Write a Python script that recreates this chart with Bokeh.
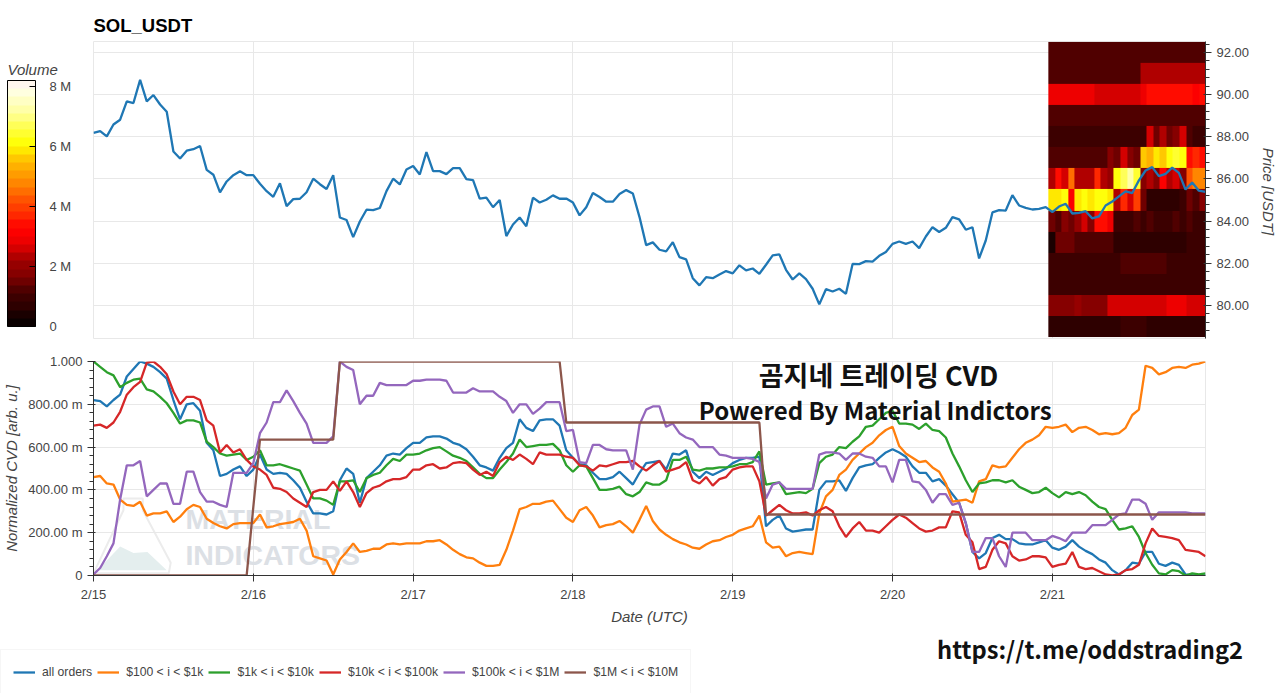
import numpy as np
from bokeh.embed import file_html
from bokeh.layouts import column, row
from bokeh.models import (ColorBar, CustomJSTickFormatter, FixedTicker, Label, Legend,
                          LinearColorMapper, Range1d)
from bokeh.plotting import figure
from bokeh.resources import INLINE

# hours since 2/15 00:00 UTC
hours = list(range(168))
day_ticks = [0, 24, 48, 72, 96, 120, 144]
day_labels = ["2/15", "2/16", "2/17", "2/18", "2/19", "2/20", "2/21"]

price = [
    88.19, 88.27, 88.02, 88.58, 88.81, 89.68, 89.60, 90.70, 89.68, 89.98, 89.53, 89.19,
    87.30, 86.97, 87.34, 87.41, 87.56, 86.43, 86.20, 85.36, 85.88, 86.18, 86.36, 86.18,
    86.18, 85.77, 85.42, 85.15, 85.79, 84.71, 85.04, 85.06, 85.37, 86.01, 85.75, 85.52,
    86.18, 84.17, 84.05, 83.24, 83.98, 84.54, 84.52, 84.62, 85.42, 86.01, 85.74, 86.45,
    86.61, 86.21, 87.27, 86.37, 86.37, 86.23, 86.51, 86.51, 85.99, 85.94, 85.07, 85.11,
    84.66, 85.00, 83.29, 83.84, 84.17, 83.75, 85.11, 84.88, 85.01, 85.22, 85.06, 85.07,
    84.88, 84.27, 84.66, 85.33, 85.14, 84.92, 84.92, 85.28, 85.47, 85.31, 84.19, 82.86,
    82.99, 82.64, 82.56, 83.00, 82.29, 82.18, 81.29, 80.95, 81.34, 81.29, 81.47, 81.63,
    81.52, 81.90, 81.66, 81.75, 81.50, 81.93, 82.37, 82.42, 81.69, 81.23, 81.52, 81.25,
    80.79, 80.05, 80.77, 80.66, 80.79, 80.55, 81.97, 81.96, 82.10, 82.08, 82.35, 82.53,
    82.92, 83.03, 82.92, 83.03, 82.72, 83.27, 83.71, 83.48, 83.68, 84.19, 84.08, 83.59,
    83.71, 82.23, 83.08, 84.41, 84.52, 84.50, 85.23, 84.74, 84.63, 84.55, 84.58, 84.66,
    84.43, 84.69, 84.82, 84.36, 84.39, 84.47, 84.13, 84.22, 84.74, 84.93, 85.17, 85.41,
    85.33, 85.93, 86.40, 86.56, 86.13, 86.24, 86.54, 86.29, 85.50, 85.83, 85.44, 85.39,
]

all_orders = [
    .82, .815, .79, .82, .845, .93, .965, 1.0, .99, .975, .95, .92,
    .82, .73, .80, .805, .77, .62, .585, .465, .475, .495, .51, .465,
    .495, .565, .495, .475, .48, .475, .445, .41, .345, .29, .29, .285,
    .30, .445, .50, .475, .34, .455, .485, .515, .56, .57, .565, .595,
    .62, .62, .645, .65, .65, .64, .62, .61, .59, .555, .515, .505,
    .49, .55, .595, .62, .73, .69, .675, .725, .73, .73, .70, .585,
    .55, .52, .515, .48, .45, .45, .46, .485, .455, .425, .48, .525,
    .53, .535, .495, .57, .565, .585, .485, .455, .485, .47, .485, .50,
    .525, .54, .55, .55, .555, .23, .26, .28, .22, .205, .21, .215,
    .215, .40, .44, .44, .445, .395, .455, .505, .515, .52, .55, .575,
    .59, .575, .555, .51, .48, .48, .44, .45, .42, .38, .34, .245,
    .11, .08, .105, .175, .19, .17, .17, .15, .145, .145, .155, .165,
    .13, .12, .135, .165, .135, .115, .10, .075, .06, .025, .005, .025,
    .06, .055, .11, .11, .055, .045, .06, .05, .005, 0, 0, 0,
]
orders_100_1k = [
    .46, .465, .43, .425, .355, .33, .325, .345, .28, .29, .29, .30,
    .25, .275, .31, .33, .32, .265, .245, .23, .22, .24, .245, .245,
    .245, .285, .225, .23, .24, .245, .25, .265, .21, .09, .08, .07,
    .005, .075, .11, .15, .11, .115, .125, .125, .145, .15, .145, .15,
    .15, .15, .16, .16, .165, .145, .12, .10, .085, .08, .06, .045,
    .045, .05, .12, .21, .31, .32, .335, .335, .345, .35, .31, .27,
    .25, .305, .32, .28, .225, .235, .24, .255, .23, .20, .26, .325,
    .255, .215, .19, .17, .155, .145, .13, .125, .145, .16, .165, .18,
    .19, .21, .22, .23, .28, .155, .13, .135, .09, .105, .11, .105,
    .10, .29, .37, .40, .47, .495, .54, .57, .60, .62, .655, .68,
    .695, .605, .57, .55, .53, .535, .505, .485, .43, .345, .35, .355,
    .34, .44, .45, .515, .505, .51, .55, .59, .62, .635, .655, .695,
    .69, .695, .705, .67, .69, .695, .68, .66, .665, .66, .665, .69,
    .75, .775, .98, .97, .94, .95, .97, .975, .97, .985, .99, 1.0,
]
orders_1k_10k = [
    1.0, .975, .95, .935, .88, .90, .915, .92, .87, .86, .835, .805,
    .76, .71, .725, .725, .715, .625, .60, .57, .56, .565, .57, .54,
    .555, .585, .515, .515, .52, .51, .50, .49, .425, .36, .36, .35,
    .33, .44, .44, .445, .39, .455, .47, .48, .515, .545, .535, .565,
    .565, .57, .585, .595, .60, .58, .56, .55, .535, .505, .475, .455,
    .455, .495, .53, .57, .635, .60, .605, .61, .61, .615, .585, .515,
    .485, .515, .51, .455, .40, .40, .405, .415, .38, .37, .39, .435,
    .425, .425, .445, .54, .54, .555, .495, .49, .50, .50, .505, .505,
    .51, .52, .52, .53, .58, .425, .43, .435, .38, .385, .39, .385,
    .405, .525, .555, .565, .60, .595, .625, .65, .695, .70, .73, .76,
    .77, .71, .71, .705, .685, .71, .68, .675, .645, .57, .51, .445,
    .39, .43, .435, .445, .445, .435, .445, .415, .40, .385, .39, .41,
    .385, .365, .39, .38, .39, .375, .345, .32, .31, .26, .215, .22,
    .23, .18, .105, .05, .01, .005, .025, .02, 0, .01, .005, .01,
]
orders_10k_100k = [
    .70, .705, .69, .715, .765, .845, .88, .905, .995, 1.0, .975, .94,
    .86, .80, .835, .835, .82, .725, .70, .575, .61, .575, .59, .54,
    .51, .495, .47, .41, .405, .39, .36, .34, .32, .39, .40, .40,
    .44, .395, .44, .39, .32, .385, .41, .42, .44, .45, .45, .46,
    .495, .495, .515, .52, .50, .505, .525, .53, .525, .495, .47, .485,
    .465, .53, .555, .54, .565, .545, .52, .575, .565, .565, .565, .555,
    .55, .515, .51, .49, .515, .51, .52, .53, .53, .535, .51, .49,
    .515, .535, .485, .495, .505, .53, .445, .43, .46, .42, .45, .46,
    .495, .505, .51, .51, .44, .28, .305, .33, .305, .29, .29, .295,
    .28, .305, .32, .30, .23, .18, .22, .25, .21, .21, .20, .23,
    .26, .285, .27, .245, .22, .205, .21, .225, .225, .30, .295, .19,
    .155, .03, .04, .12, .16, .15, .09, .07, .075, .09, .09, .085,
    .04, .05, .055, .11, .04, .03, .035, .02, .005, 0, .005, .025,
    .03, .05, .15, .22, .185, .18, .175, .165, .12, .115, .11, .09,
]
orders_100k_1m = [
    .005, .035, .09, .15, .355, .515, .515, .535, .37, .40, .43, .43,
    .335, .335, .485, .485, .39, .345, .345, .33, .32, .48, .48, .48,
    .525, .665, .715, .81, .81, .865, .815, .76, .71, .62, .62, .62,
    .65, 1.0, .975, .96, .80, .84, .84, .90, .89, .89, .89, .89,
    .91, .91, .915, .915, .915, .91, .855, .855, .855, .875, .86, .86,
    .86, .835, .815, .76, .80, .80, .755, .78, .81, .81, .81, .675,
    .68, .53, .525, .61, .61, .59, .585, .585, .585, .495, .705, .775,
    .79, .79, .695, .71, .665, .645, .635, .60, .60, .60, .565, .56,
    .55, .55, .55, .545, .53, .36, .425, .435, .405, .405, .405, .405,
    .405, .565, .575, .575, .57, .54, .57, .57, .555, .55, .51, .51,
    .435, .54, .54, .44, .435, .40, .34, .38, .38, .33, .34, .245,
    .11, .11, .175, .175, .09, .04, .20, .20, .20, .165, .165, .165,
    .185, .175, .16, .20, .20, .20, .235, .235, .235, .26, .285, .29,
    .355, .355, .335, .26, .295, .295, .295, .295, .295, .29, .29, .29,
]
orders_1m_10m = [
    0, 0, 0, 0, 0, 0, 0, 0, 0, 0, 0, 0,
    0, 0, 0, 0, 0, 0, 0, 0, 0, 0, 0, 0,
    .32, .635, .635, .635, .635, .635, .635, .635, .635, .635, .635, .635,
    .635, 1.0, 1.0, 1.0, 1.0, 1.0, 1.0, 1.0, 1.0, 1.0, 1.0, 1.0,
    1.0, 1.0, 1.0, 1.0, 1.0, 1.0, 1.0, 1.0, 1.0, 1.0, 1.0, 1.0,
    1.0, 1.0, 1.0, 1.0, 1.0, 1.0, 1.0, 1.0, 1.0, 1.0, 1.0, .715,
    .715, .715, .715, .715, .715, .715, .715, .715, .715, .715, .715, .715,
    .715, .715, .715, .715, .715, .715, .715, .715, .715, .715, .715, .715,
    .715, .715, .715, .715, .715, .285, .285, .285, .285, .285, .285, .285,
    .285, .285, .285, .285, .285, .285, .285, .285, .285, .285, .285, .285,
    .285, .285, .285, .285, .285, .285, .285, .285, .285, .285, .285, .285,
    .285, .285, .285, .285, .285, .285, .285, .285, .285, .285, .285, .285,
    .285, .285, .285, .285, .285, .285, .285, .285, .285, .285, .285, .285,
    .285, .285, .285, .285, .285, .285, .285, .285, .285, .285, .285, .285,
]

# volume by price bucket over the last 24 hours, in millions
vol_92 = [1.15, 1.15, 1.15, 1.15, 1.15, 1.15, 1.15, 1.15, 1.15, 1.15, 1.15, 1.15, 1.15, 1.15, 1.15, 1.15, 1.25, 1.25, 1.25, 1.25, 1.2, 1.2, 1.2, 1.2]
vol_91 = [1.15, 1.15, 1.15, 1.15, 1.15, 1.15, 1.15, 1.15, 1.15, 1.15, 1.15, 1.15, 1.15, 1.15, 2.3, 2.3, 2.3, 2.3, 2.2, 2.2, 2.2, 2.2, 2.3, 2.3]
vol_90 = [2.8, 2.8, 2.8, 2.8, 2.8, 2.8, 2.8, 2.65, 2.55, 2.55, 2.55, 2.55, 2.55, 2.7, 3.0, 3.3, 3.3, 3.3, 3.3, 3.3, 3.3, 3.3, 3.2, 3.3]
vol_89 = [1.1, 1.1, 1.1, 1.1, 1.1, 1.1, 1.1, 1.1, 1.1, 1.1, 1.1, 1.1, 1.1, 1.1, 1.1, 1.1, 1.1, 1.1, 1.1, 1.1, 1.1, 1.1, 1.1, 1.1]
vol_88 = [.95, .95, .95, .95, .95, .95, 1.0, .95, 1.0, .95, .95, .95, .95, .95, .95, 2.5, 1.4, 2.3, 1.4, 1.7, 2.7, 1.1, 1.0, 1.0]
vol_87 = [1.3, 1.3, 1.3, 1.3, 1.3, 1.35, 1.3, 1.35, 1.3, 1.7, 1.5, 2.6, 1.9, 1.6, 5.6, 5.2, 5.9, 5.5, 6.1, 6.3, 6.1, 3.5, 3.8, 3.3]
vol_86 = [2.4, 3.5, 2.5, 4.4, 2.2, 2.3, 2.2, 3.6, 2.2, 2.1, 6.1, 6.8, 7.2, 6.5, 1.9, 2.4, 1.8, 3.1, 2.3, 2.7, 1.9, 4.3, 4.7, 4.8]
vol_85 = [5.9, 5.9, 6.1, 3.2, 6.0, 6.2, 5.9, 6.1, 6.1, 5.8, 2.4, 3.7, 2.7, 3.9, 1.5, .65, .65, .65, .75, .75, .9, 1.6, 1.2, 1.7]
vol_84 = [1.5, 1.3, 1.7, 1.4, 2.0, 2.5, 1.8, 3.3, 3.4, 2.8, 1.0, 1.0, 1.0, 1.1, 1.0, 1.1, 1.0, 1.0, 1.0, 1.1, 1.0, 1.1, 1.0, 1.0]
vol_83 = [.4, 1.5, 1.5, 1.5, 1.2, 1.2, 1.2, 1.2, 1.2, 1.1, .65, .65, .65, .65, .65, .65, .65, .65, .65, .65, .8, .95, .95, .95]
vol_82 = [1.05, 1.05, 1.05, 1.05, 1.05, 1.05, 1.05, 1.05, 1.05, 1.05, 1.05, 1.25, 1.25, 1.25, 1.25, 1.25, 1.25, 1.15, 1.05, 1.05, 1.05, 1.05, 1.05, 1.05]
vol_81 = [.85, .85, .95, .85, .85, .85, .95, .85, .85, .85, .85, .85, .95, .95, .95, .95, .95, .85, .85, .95, .85, .85, .85, .85]
vol_80 = [1.9, 1.9, 1.9, 1.9, 2.0, 1.9, 1.9, 1.9, 1.9, 2.6, 2.6, 2.6, 2.6, 2.6, 2.6, 2.6, 2.6, 2.6, 2.8, 2.8, 2.8, 2.7, 2.7, 2.7]
vol_79 = [.75, .75, .75, .75, .75, .75, .7, .75, .75, .75, .75, 1.0, 1.0, 1.0, 1.0, .7, .7, .7, .7, .7, .75, .75, .75, .75]

heat_palette = [
    "#0a0000", "#1a0000", "#2e0000", "#3c0000", "#500000", "#6e0000", "#860000", "#960000",
    "#b00000", "#d40000", "#ee0000", "#fc0000", "#ff0c00", "#ff2800", "#ff3e00", "#ff5400",
    "#ff6e00", "#ff8600", "#ff9c00", "#ffb000", "#ffc800", "#ffe800", "#ffff0a", "#ffff30",
    "#ffff58", "#ffff84", "#ffffa8", "#ffffc4", "#ffffe0", "#fff6ee",
]

FONT = "Liberation Sans"
TICK_COLOR = "#444444"
GRID_COLOR = "#e8e8e8"
LINE_WIDTH = 2.3


def blank_figure(width, height):
    # labels outside a frame get clipped, so side texts live in their own small frames
    fig = figure(width=width, height=height, output_backend="svg", toolbar_location=None,
                 x_range=Range1d(0, 1), y_range=Range1d(2, 3), x_axis_type=None, y_axis_type=None,
                 min_border=0)
    fig.outline_line_color = None
    fig.grid.visible = False
    return fig


# top panel
p1 = figure(width=1168, height=343, output_backend="svg", toolbar_location=None,
            x_range=Range1d(0, 167), y_range=Range1d(78.43, 92.52),
            y_axis_location="right", title="SOL_USDT",
            min_border_left=0, min_border_right=56, min_border_top=41, min_border_bottom=5)
p1.title.text_font = FONT
p1.title.text_font_size = "18.5px"
p1.title.text_font_style = "bold"
p1.title.text_color = "#000000"
p1.title.offset = 0
p1.title.standoff = 12
p1.xaxis.visible = False
p1.xgrid.ticker = FixedTicker(ticks=day_ticks)
p1.yaxis.formatter = CustomJSTickFormatter(code="return tick.toFixed(2)")

mapper = LinearColorMapper(palette=heat_palette, low=0, high=8.2e6)
volume = np.array([vol_79, vol_80, vol_81, vol_82, vol_83, vol_84, vol_85, vol_86,
                   vol_87, vol_88, vol_89, vol_90, vol_91, vol_92]) * 1e6
p1.image(image=[volume], x=143.4, y=78.5, dw=23.6, dh=14, color_mapper=mapper)
p1.line(hours, price, line_color="#1f77b4", line_width=LINE_WIDTH)

# colour bar strip, left of the top panel
cb_fig = blank_figure(93, 343)
cbar = ColorBar(color_mapper=mapper, location=(7, 12), width=28, height=246, padding=0,
                ticker=FixedTicker(ticks=[0, 2e6, 4e6, 6e6, 8e6]),
                formatter=CustomJSTickFormatter(code="return tick == 0 ? '0' : (tick / 1e6) + ' M'"),
                major_label_text_font=FONT, major_label_text_font_size="13px",
                major_label_text_color=TICK_COLOR, label_standoff=14,
                major_tick_line_color="#000000", major_tick_in=6, major_tick_out=0,
                minor_tick_line_color=None, bar_line_color="#000000", bar_line_width=1,
                background_fill_alpha=0, border_line_color=None)
cb_fig.add_layout(cbar, "center")
cb_fig.add_layout(Label(x=7, y=261, x_units="screen", y_units="screen", text="Volume", text_font=FONT,
                        text_font_size="15px", text_font_style="italic", text_color=TICK_COLOR))

# price axis title strip, right of the top panel
price_fig = blank_figure(19, 343)
price_fig.add_layout(Label(x=7, y=147, x_units="screen", y_units="screen", text="Price [USDT]", text_font=FONT,
                           text_font_size="15px", text_font_style="italic", text_color=TICK_COLOR,
                           angle=-90, angle_units="deg", text_align="center", text_baseline="middle"))

# bottom panel
p2 = figure(width=1280, height=285, output_backend="svg", toolbar_location=None,
            x_range=p1.x_range, y_range=Range1d(0, 1),
            min_border_left=93, min_border_right=75, min_border_top=18, min_border_bottom=53)
p2.xaxis.ticker = FixedTicker(ticks=day_ticks)
p2.xaxis.major_label_overrides = dict(zip(day_ticks, day_labels))
p2.xaxis.axis_label = "Date (UTC)"
p2.xaxis.axis_label_standoff = 3
p2.yaxis.axis_label = "Normalized CVD [arb. u.]"
p2.yaxis.formatter = CustomJSTickFormatter(
    code="return tick > 0.999 ? '1.000' : tick < 0.001 ? '0' : (tick * 1000).toFixed(2) + ' m'")

for p in (p1, p2):
    p.outline_line_color = GRID_COLOR
    p.grid.grid_line_color = GRID_COLOR
    p.axis.major_label_text_font = FONT
    p.axis.major_label_text_font_size = "13px"
    p.axis.major_label_text_color = TICK_COLOR
    p.axis.axis_label_text_font = FONT
    p.axis.axis_label_text_font_size = "15px"
    p.axis.axis_label_text_color = TICK_COLOR
    p.axis.axis_line_color = "#333333"
    p.axis.major_tick_line_color = "#333333"
    p.axis.minor_tick_line_color = "#333333"

flask_x = [0, 4.5, 4.5, 7.4, 7.4, 11.6, 11.3, 0]
flask_y = [.01, .305, .36, .36, .305, .06, .01, .01]
hill_x = [.6, 4, 6, 8.1, 11, .6]
hill_y = [.025, .135, .105, .11, .025, .025]
p2.line(flask_x, flask_y, line_color="#ececec", line_width=2, level="underlay")
p2.patch(hill_x, hill_y, fill_color="#e4eeee", line_color=None, level="underlay")

for text, y in (("MATERIAL", .19), ("INDICATORS", .02)):
    p2.add_layout(Label(x=13.8, y=y, text=text, text_font=FONT, text_font_style="bold",
                        text_font_size="28.5px", text_color="#dce0e5", level="underlay"))

series = [
    ("all orders", all_orders, "#1f77b4"),
    ("$100 < i < $1k", orders_100_1k, "#ff7f0e"),
    ("$1k < i < $10k", orders_1k_10k, "#2ca02c"),
    ("$10k < i < $100k", orders_10k_100k, "#d62728"),
    ("$100k < i < $1M", orders_100k_1m, "#9467bd"),
    ("$1M < i < $10M", orders_1m_10m, "#8c564b"),
]
for name, values, color in series:
    assert len(values) == 168, (name, len(values))
    p2.line(hours, values, line_color=color, line_width=LINE_WIDTH)

overlay_font = "Noto Sans CJK KR"
p2.add_layout(Label(x=117.9, y=.937, text="곰지네 트레이딩 CVD", text_font=overlay_font, text_font_style="bold",
                    text_font_size="27px", text_color="#111111", text_align="center", text_baseline="middle"))
p2.add_layout(Label(x=117.4, y=.778, text="Powered By Material Indictors", text_font=overlay_font,
                    text_font_style="bold", text_font_size="24px", text_color="#111111",
                    text_align="center", text_baseline="middle"))

# legend and link strip under the charts (series sit outside its y range, only the legend shows)
p3 = blank_figure(1280, 65)
items = []
for name, values, color in series:
    items.append((name, [p3.line(hours, values, line_color=color, line_width=LINE_WIDTH)]))
legend = Legend(items=items, orientation="horizontal", location=(0, -2), padding=12, margin=0,
                spacing=5, label_standoff=7, glyph_width=22, glyph_height=20,
                label_text_font=FONT, label_text_font_size="12.2px", label_text_color=TICK_COLOR,
                border_line_color="#eeeeee", background_fill_color="#ffffff")
p3.add_layout(legend, "center")
p3.add_layout(Label(x=1089.5, y=45, x_units="screen", y_units="screen", text="https://t.me/oddstrading2",
                    text_font=overlay_font, text_font_style="bold", text_font_size="23.7px",
                    text_color="#111111", text_align="center", text_baseline="middle"))

layout = column(row(cb_fig, p1, price_fig, spacing=0), p2, row(p3), spacing=0)
open("out.html", "w").write(file_html(layout, INLINE))
